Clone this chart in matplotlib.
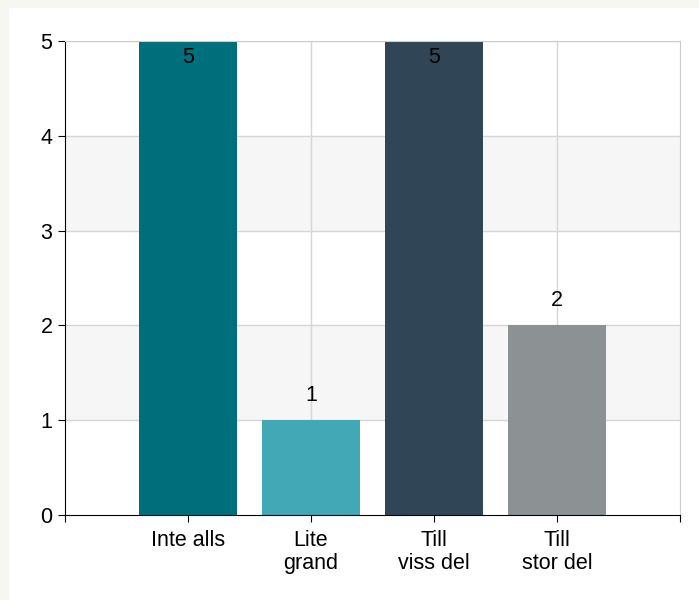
import matplotlib.pyplot as plt
from matplotlib.patches import Rectangle

# data
kategorier = ['Inte alls', 'Lite\ngrand', 'Till\nviss del', 'Till\nstor del']
antal = [5, 1, 5, 2]
farger = ['#006f7c', '#42a8b5', '#304656', '#8c9194']

plt.rcParams['font.family'] = ['Liberation Sans', 'DejaVu Sans']

fig = plt.figure(figsize=(6.99, 6.0), dpi=100)
fig.patch.set_facecolor('white')
# off-white strips top and left
fig.patches.append(Rectangle((0, 1 - 7 / 600), 1, 7 / 600, transform=fig.transFigure,
                             color='#f7f7f2', zorder=0))
fig.patches.append(Rectangle((0, 0), 8 / 699, 1, transform=fig.transFigure,
                             color='#f7f7f2', zorder=0))

ax = fig.add_axes([65 / 699, 1 - 515 / 600, 615 / 699, 474 / 600])

# grey bands
for lo in [1, 3]:
    ax.axhspan(lo, lo + 1, color='#f6f6f6', zorder=0, lw=0)

pos = list(range(1, len(kategorier) + 1))
ax.bar(pos, antal, width=0.8, color=farger, zorder=2)

for x, v in zip(pos, antal):
    if v == 5:
        ax.text(x, v - 0.06, str(v), ha='center', va='top', fontsize=15.5, zorder=3)
    else:
        ax.text(x, v + 0.15, str(v), ha='center', va='bottom', fontsize=15.5, zorder=3)

ax.set_xlim(0, 5)
ax.set_ylim(0, 5)
ax.set_yticks(range(6))
ax.set_xticks([0] + pos + [5])
ax.set_xticklabels([''] + kategorier + [''], linespacing=1.1)

for y in range(1, 6):
    ax.axhline(y, color='#d6d6d6', lw=1, zorder=1)
for x in [2, 4]:
    ax.axvline(x, color='#d6d6d6', lw=1, zorder=1)

ax.spines['left'].set_color('black')
ax.spines['bottom'].set_color('black')
ax.spines['top'].set_color('#cccccc')
ax.spines['right'].set_color('#cccccc')
ax.tick_params(axis='both', labelsize=15.5, color='black', length=5)
ax.tick_params(axis='y', pad=4)
ax.tick_params(axis='x', pad=6)

fig.savefig('out.png', dpi=100)
